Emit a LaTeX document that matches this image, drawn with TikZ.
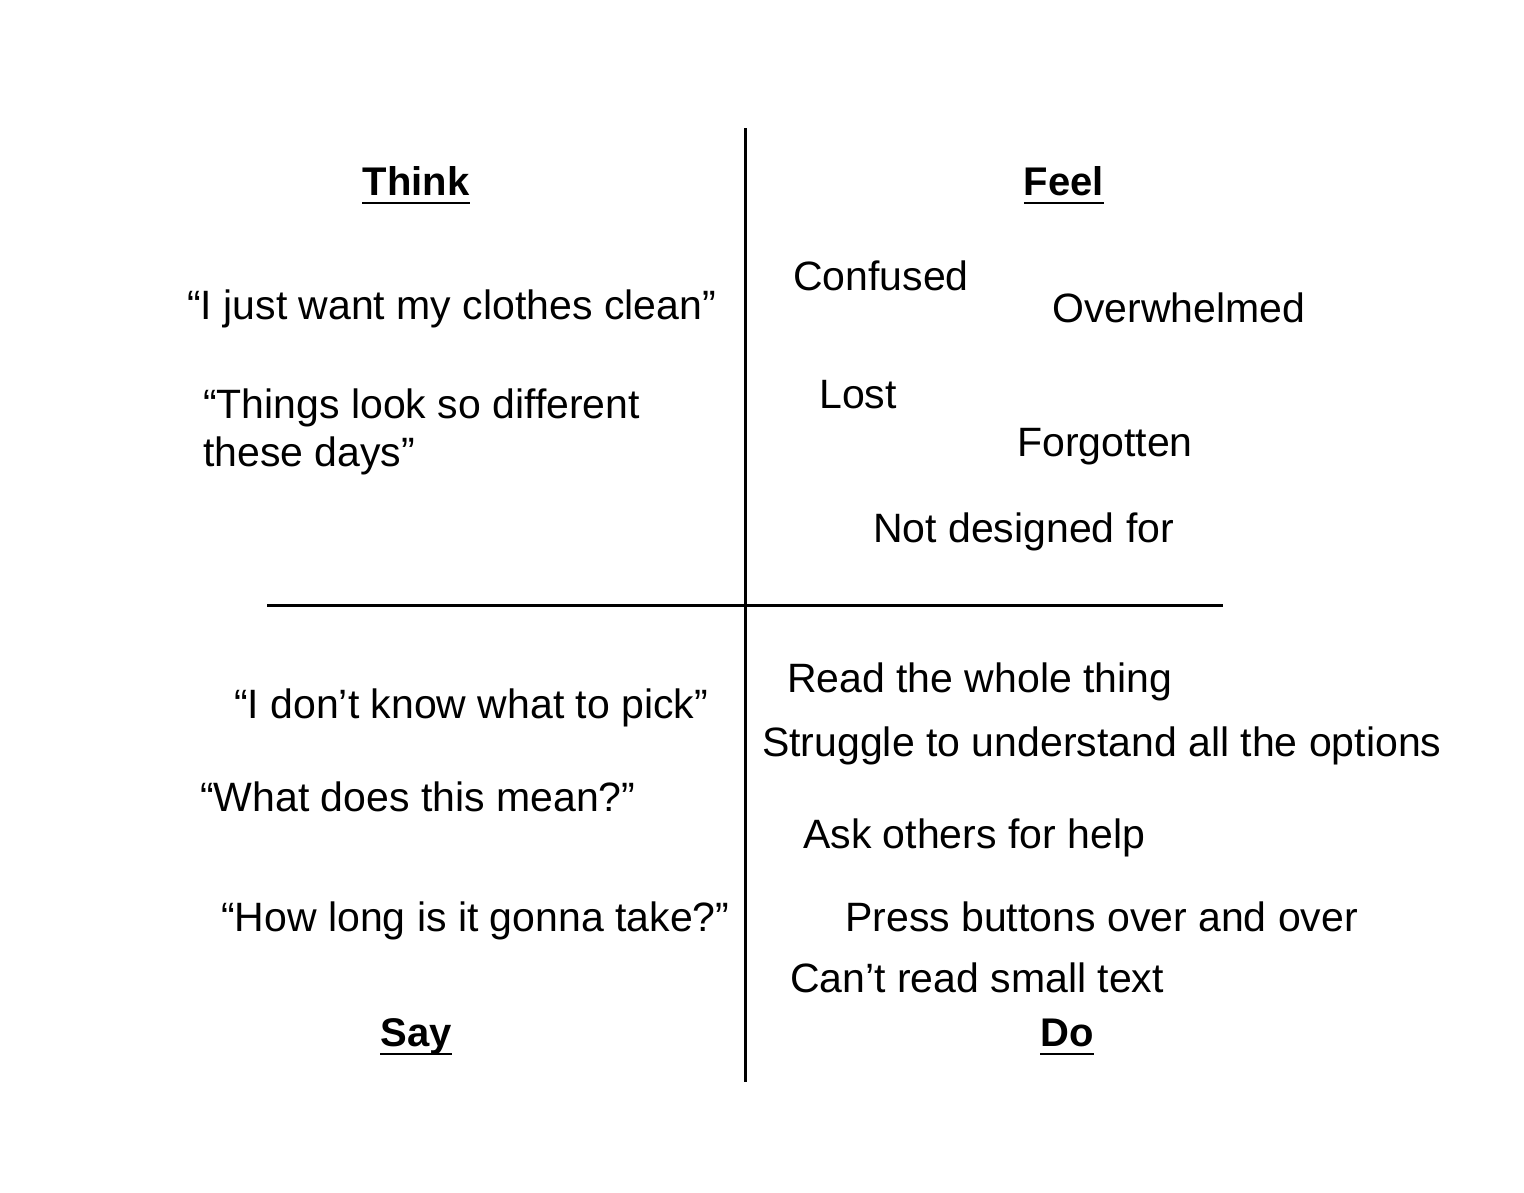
\documentclass[tikz,border=0pt]{standalone}
\usepackage{fontspec}
\setmainfont{Liberation Sans}
\begin{document}
\begin{tikzpicture}[x=1pt,y=-1pt,
  item/.style={anchor=base west,inner sep=0pt,font=\fontsize{41}{48}\selectfont},
  head/.style={anchor=base,inner sep=0pt,font=\fontsize{40}{48}\selectfont\bfseries},
  axis/.style={line width=3pt,black}]
\useasboundingbox[fill=white] (0,0) rectangle (1524,1192);
\coordinate (vt) at (745,128);
\coordinate (vb) at (745,1082);
\coordinate (hl) at (267,605);
\coordinate (hr) at (1223,605);
\draw[axis] (vt) -- (vb);
\draw[axis] (hl) -- (hr);
% headings
\node[head] (think) at (416,195) {Think};
\node[head] (feel) at (1064,195) {Feel};
\node[head] (say) at (416,1046) {Say};
\node[head] (do) at (1067,1046) {Do};
\foreach \n in {think,feel,say,do}{
  \draw[line width=2pt] ([yshift=-8pt]\n.base west) -- ([yshift=-8pt]\n.base east);
}
% Think
\node[item] (t1) at (187,319) {“I just want my clothes clean”};
\node[item] (t2a) at (203,418) {“Things look so different};
\node[item] (t2b) at (203,466) {these days”};
% Feel
\node[item] (f1) at (793,290) {Confused};
\node[item] (f2) at (1052,322) {Overwhelmed};
\node[item] (f3) at (819,408) {Lost};
\node[item] (f4) at (1017,456) {Forgotten};
\node[item] (f5) at (873,542) {Not designed for};
% Say
\node[item] (s1) at (234,718) {“I don’t know what to pick”};
\node[item] (s2) at (200,811) {“What does this mean?”};
\node[item] (s3) at (221,931) {“How long is it gonna take?”};
% Do
\node[item] (d1) at (787,692) {Read the whole thing};
\node[item] (d2) at (762,756) {Struggle to understand all the options};
\node[item] (d3) at (803,848) {Ask others for help};
\node[item] (d4) at (845,931) {Press buttons over and over};
\node[item] (d5) at (790,992) {Can’t read small text};
\end{tikzpicture}
\end{document}
